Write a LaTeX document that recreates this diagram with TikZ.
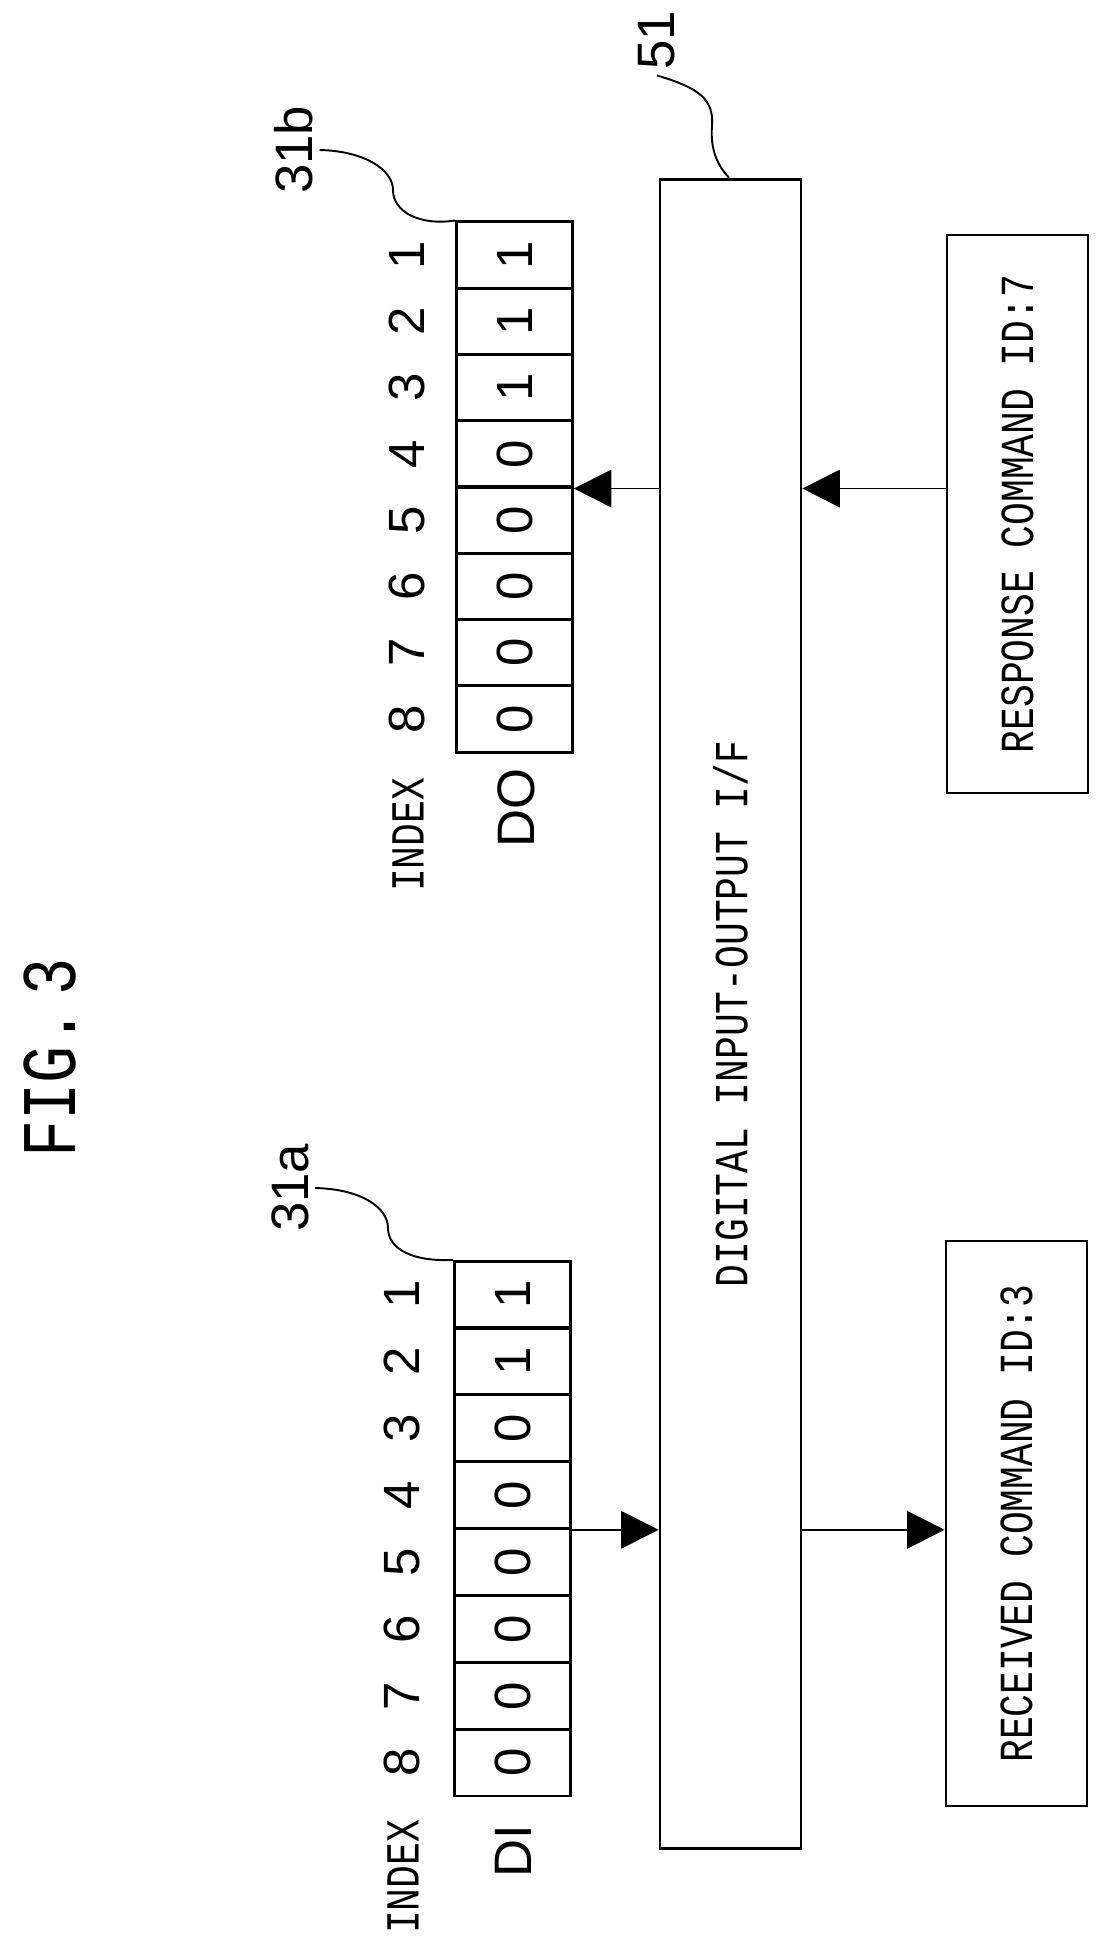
\documentclass[tikz,border=0pt]{standalone}
\usepackage{fontspec}
\usetikzlibrary{arrows.meta}
\newfontfamily\labelfont[FakeStretch=0.8]{Liberation Mono}
\newfontfamily\digitfont{Liberation Sans}
\tikzset{
  cell/.style={rectangle, draw=black, line width=1.6pt, minimum width=2.32cm, minimum height=1.33cm, inner sep=0pt, font=\digitfont\fontsize{29}{29}\selectfont},
  unitbox/.style={rectangle, draw=black, line width=1.6pt, inner sep=0pt, font=\labelfont\fontsize{27}{27}\selectfont},
  idx/.style={rotate=90, font=\digitfont\fontsize{29}{29}\selectfont},
  tag/.style={rotate=90, font=\labelfont\fontsize{27}{27}\selectfont},
  reg/.style={rotate=90, font=\digitfont\fontsize{30}{30}\selectfont},
  leader/.style={line width=1.1pt},
  arrow/.style={line width=1pt, -{Triangle[length=0.75cm, width=0.75cm]}}
}
\begin{document}
\begin{tikzpicture}[x=0.02cm, y=-0.02cm]
  \useasboundingbox (0,0) rectangle (1117,1947);
  \node (fig) [rotate=90, font=\labelfont\fontsize{44}{44}\selectfont] at (50,1058) {FIG.\,3};

  %% registers
  \foreach \i/\v in {1/1,2/1,3/1,4/0,5/0,6/0,7/0,8/0} {
    \node (do\i) [cell] at (514.5,{222+(\i-0.5)*66.25}) {\rotatebox{90}{\v}};
    \node (ido\i) [idx] at (407,{222+(\i-0.5)*66.25}) {\i};
  }
  \foreach \i/\v in {1/1,2/1,3/0,4/0,5/0,6/0,7/0,8/0} {
    \node (di\i) [cell] at (512.5,{1261+(\i-0.5)*66.9}) {\rotatebox{90}{\v}};
    \node (idi\i) [idx] at (402,{1261+(\i-0.5)*66.9}) {\i};
  }
  \node (dotag) [tag] at (408,835) {INDEX};
  \node (doname) [reg] at (516,808) {DO};
  \node (ditag) [tag] at (403,1877) {INDEX};
  \node (diname) [reg] at (513,1851) {DI};

  %% units
  \node (io) [unitbox, minimum width=2.82cm, minimum height=33.4cm] at (730.5,1014) {};
  \node [tag] at (io.center) {DIGITAL INPUT-OUTPUT I/F};
  \node (resp) [unitbox, minimum width=2.82cm, minimum height=11.16cm] at (1017.5,514) {};
  \node [tag] at (resp.center) {RESPONSE COMMAND ID:7};
  \node (recv) [unitbox, minimum width=2.82cm, minimum height=11.3cm] at (1016.5,1523.5) {};
  \node [tag] at (recv.center) {RECEIVED COMMAND ID:3};

  %% reference labels
  \node (l31b) [reg] at (294,150) {31b};
  \node (l31a) [reg] at (290,1188) {31a};
  \node (l51) [reg] at (657,40) {51};
  \draw [leader] (l31b.south) .. controls (365,151) and (393,170) .. (393,190) .. controls (393,212) and (420,226) .. (do1.north west);
  \draw [leader] (l31a.south) .. controls (362,1189) and (388,1208) .. (388,1228) .. controls (388,1250) and (415,1262) .. (di1.north west);
  \draw [leader] (l51.west) .. controls (700,88) and (714,100) .. (712,126) .. controls (710,150) and (718,166) .. (io.north -| 729,0);

  %% Connections
  \draw [arrow] (io.west |- do4.south east) -- (do4.south east);
  \draw [arrow] (resp.west |- do4.south east) -- (io.east |- do4.south east);
  \draw [arrow] (di4.south east) -- (io.west |- di4.south east);
  \draw [arrow] (io.east |- di4.south east) -- (recv.west |- di4.south east);
\end{tikzpicture}
\end{document}
